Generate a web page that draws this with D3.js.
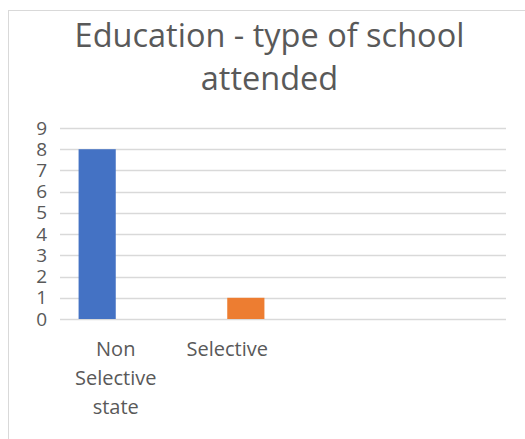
<!DOCTYPE html>
<html>
<head>
<meta charset="utf-8">
<script src="https://cdn.jsdelivr.net/npm/d3@7"></script>
<style>
  html, body { margin: 0; padding: 0; background: #fff; }
  svg { display: block; }
</style>
</head>
<body>
<svg id="chart" width="525" height="439"></svg>
<script>
const categories = ["Non Selective state", "Selective", "", ""];
const categoryLabelLines = [["Non", "Selective", "state"], ["Selective"], [], []];
const seriesNames = ["Non Selective state", "Selective"];
const seriesValues = [
  [8, 0, 0, 0],
  [0, 1, 0, 0]
];
const seriesColors = ["#4472c4", "#ed7d31"];
const yTicks = [0, 1, 2, 3, 4, 5, 6, 7, 8, 9];
const titleLines = ["Education - type of school", "attended"];

(function () {
const svg = d3.select("#chart");
const font = "'Open Sans', sans-serif";
const textColor = "#595959";

// chart frame
svg.append("rect")
  .attr("x", 8.5).attr("y", 10.5)
  .attr("width", 520).attr("height", 440)
  .attr("fill", "#fff").attr("stroke", "#d9d9d9").attr("stroke-width", 1);

const pLeft = 60, pRight = 506, pTop = 128, pBottom = 319;

const catIds = categories.map((c, i) => i);
const x = d3.scaleBand().domain(catIds).range([pLeft, pRight]).paddingInner(0).paddingOuter(0);
const xs = d3.scaleBand().domain(d3.range(seriesNames.length)).range([0, x.bandwidth()]).paddingInner(0).paddingOuter(0.5);
const y = d3.scaleLinear().domain([0, 9]).range([pBottom, pTop]);

// gridlines
svg.append("g").selectAll("line").data(yTicks).join("line")
  .attr("x1", pLeft).attr("x2", pRight)
  .attr("y1", d => Math.round(y(d)) + 0.5).attr("y2", d => Math.round(y(d)) + 0.5)
  .attr("stroke", "#d9d9d9").attr("stroke-width", 1.3);

// y axis labels
const yAxis = d3.axisLeft(y).tickValues(yTicks).tickSize(0).tickPadding(0).tickFormat(d3.format("d"));
const yg = svg.append("g").attr("transform", `translate(47,0)`).call(yAxis);
yg.select(".domain").remove();
yg.selectAll("text").attr("font-family", font).attr("font-size", 19).attr("fill", textColor);

// bars
seriesValues.forEach((vals, s) => {
  svg.append("g").selectAll("rect").data(vals.map((v, i) => ({v, i}))).join("rect")
    .attr("x", d => x(d.i) + xs(s))
    .attr("width", xs.bandwidth())
    .attr("y", d => y(d.v))
    .attr("height", d => y(0) - y(d.v))
    .attr("fill", seriesColors[s]);
});

// x labels
const xl = svg.append("g");
categoryLabelLines.forEach((lines, i) => {
  lines.forEach((line, j) => {
    xl.append("text")
      .attr("x", x(i) + x.bandwidth() / 2)
      .attr("y", 356 + j * 29)
      .attr("text-anchor", "middle")
      .attr("font-family", font).attr("font-size", 20)
      .attr("fill", textColor)
      .text(line);
  });
});

// title
const tg = svg.append("g");
titleLines.forEach((line, j) => {
  tg.append("text")
    .attr("x", 269.5)
    .attr("y", 47 + j * 43)
    .attr("text-anchor", "middle")
    .attr("font-family", font).attr("font-size", 32.5)
    .attr("fill", textColor)
    .text(line);
});
})();
</script>
</body>
</html>
